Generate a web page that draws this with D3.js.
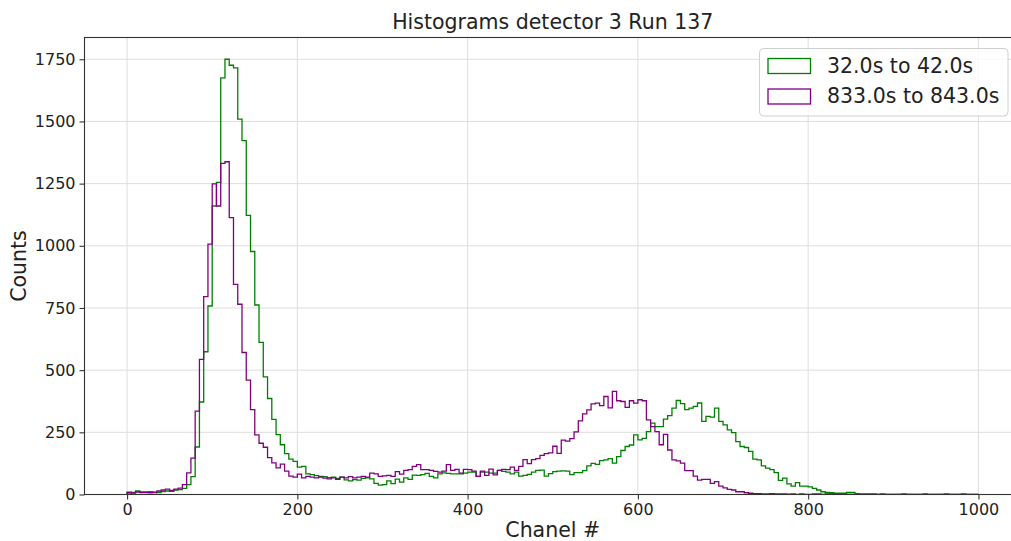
<!DOCTYPE html>
<html>
<head>
<meta charset="utf-8">
<script src="https://cdn.jsdelivr.net/npm/d3@7"></script>
<style>
  body { margin: 0; background: #fff; }
  svg { display: block; }
  text { font-family: "DejaVu Sans", sans-serif; fill: #222; }
</style>
</head>
<body>
<svg id="chart" width="1011" height="541"></svg>
<script>
// Histogram counts per 5-channel bin, channels 0..1000
const binWidth = 5;

const greenCounts = [
  6, 8, 14, 10, 10, 11, 9, 8, 12, 14, 13, 18, 20, 25, 40, 72, 191, 372, 574, 758,
  1160, 1255, 1675, 1750, 1726, 1715, 1509, 1423, 1122, 977, 762, 612, 473, 386, 302, 241, 200, 164, 142, 133,
  110, 113, 83, 80, 76, 73, 72, 68, 70, 65, 70, 59, 55, 60, 58, 65, 67, 63, 45, 38,
  40, 55, 44, 62, 50, 67, 61, 78, 77, 80, 85, 73, 67, 83, 87, 85, 83, 83, 83, 86,
  90, 90, 73, 90, 90, 86, 86, 97, 93, 90, 83, 90, 74, 77, 81, 90, 97, 98, 74, 84,
  92, 94, 95, 94, 80, 88, 88, 96, 115, 125, 121, 136, 139, 144, 126, 152, 177, 193, 199, 240,
  220, 226, 253, 287, 273, 273, 303, 317, 347, 378, 365, 341, 347, 354, 368, 294, 314, 311, 347, 294,
  280, 260, 249, 213, 193, 189, 173, 142, 139, 115, 106, 100, 88, 57, 66, 43, 34, 48, 34, 34,
  31, 25, 18, 11, 8, 7, 5, 5, 5, 8, 8, 3, 2, 2, 2, 2, 0, 2, 0, 0,
  0, 0, 2, 0, 0, 0, 0, 2, 0, 0, 0, 0, 2, 0, 0, 0, 2, 0, 0, 0
];

const purpleCounts = [
  9, 6, 10, 8, 8, 7, 8, 14, 18, 22, 16, 22, 26, 40, 87, 146, 335, 543, 796, 1007,
  1249, 1160, 1331, 1338, 1113, 845, 765, 571, 460, 341, 240, 206, 190, 148, 127, 107, 122, 94, 74, 70,
  82, 67, 73, 70, 67, 70, 66, 63, 67, 61, 70, 67, 72, 67, 70, 73, 70, 86, 83, 73,
  75, 77, 73, 92, 82, 97, 100, 113, 120, 100, 100, 97, 93, 90, 94, 120, 97, 101, 86, 101,
  100, 94, 73, 94, 77, 102, 79, 97, 101, 100, 110, 97, 113, 140, 124, 140, 144, 157, 164, 167,
  194, 165, 219, 215, 225, 252, 296, 324, 340, 364, 367, 357, 394, 348, 415, 377, 374, 350, 377, 367,
  381, 377, 300, 273, 253, 200, 242, 179, 139, 135, 126, 96, 96, 74, 58, 61, 61, 45, 52, 34,
  27, 21, 18, 11, 11, 7, 5, 3, 3, 2, 2, 3, 2, 2, 2, 1, 2, 0, 2, 0,
  0, 2, 2, 0, 2, 2, 0, 0, 0, 0, 0, 0, 0, 0, 0, 0, 0, 0, 0, 0,
  0, 0, 0, 0, 0, 0, 0, 0, 0, 0, 0, 0, 0, 0, 0, 0, 0, 0, 0, 0
];

const seriesLabels = ["32.0s to 42.0s", "833.0s to 843.0s"];
const seriesColors = ["#008000", "#800080"];
const xTicks = [0, 200, 400, 600, 800, 1000];
const yTicks = [0, 250, 500, 750, 1000, 1250, 1500, 1750];
const titleText = "Histograms detector 3 Run 137";
const xLabelText = "Chanel #";
const yLabelText = "Counts";

const svg = d3.select("#chart");
const plot = { left: 84.5, right: 1021, top: 37.5, bottom: 494.5 };

const nBins = greenCounts.length;
const xMax = nBins * binWidth;
const xPad = xMax * 0.05;
const yMax = d3.max([d3.max(greenCounts), d3.max(purpleCounts)]) * 1.05;

const x = d3.scaleLinear().domain([-xPad, xMax + xPad]).range([plot.left, plot.right]);
const y = d3.scaleLinear().domain([0, yMax]).range([plot.bottom, plot.top]);

svg.append("defs").append("clipPath").attr("id", "plotClip")
  .append("rect")
  .attr("x", plot.left).attr("y", plot.top)
  .attr("width", plot.right - plot.left).attr("height", plot.bottom - plot.top);

// grid
const grid = svg.append("g").attr("stroke", "#dedede").attr("stroke-width", 1);
grid.selectAll("line.gx").data(xTicks).join("line")
  .attr("x1", d => x(d)).attr("x2", d => x(d))
  .attr("y1", plot.top).attr("y2", plot.bottom);
grid.selectAll("line.gy").data(yTicks).join("line")
  .attr("x1", plot.left).attr("x2", plot.right)
  .attr("y1", d => y(d)).attr("y2", d => y(d));

// step outline of a histogram, closed down to the baseline at both ends
function stepPoints(counts) {
  const pts = [[0, 0]];
  counts.forEach((c, i) => {
    pts.push([i * binWidth, c]);
    pts.push([(i + 1) * binWidth, c]);
  });
  pts.push([counts.length * binWidth, 0]);
  return pts;
}

const line = d3.line().x(d => x(d[0])).y(d => y(d[1]));

const series = [greenCounts, purpleCounts];
svg.append("g").attr("clip-path", "url(#plotClip)")
  .selectAll("path").data(series).join("path")
  .attr("d", d => line(stepPoints(d)))
  .attr("fill", "none")
  .attr("stroke", (d, i) => seriesColors[i])
  .attr("stroke-width", 1.3)
  .attr("stroke-linejoin", "miter");

// axes
const fmt = d3.format("d");
const xAxis = d3.axisBottom(x).tickValues(xTicks).tickFormat(fmt).tickSize(5).tickSizeOuter(0).tickPadding(4);
const yAxis = d3.axisLeft(y).tickValues(yTicks).tickFormat(fmt).tickSize(5).tickSizeOuter(0).tickPadding(4);

const gx = svg.append("g").attr("transform", `translate(0,${plot.bottom})`).call(xAxis);
const gy = svg.append("g").attr("transform", `translate(${plot.left},0)`).call(yAxis);
[gx, gy].forEach(g => {
  g.select(".domain").remove();
  g.selectAll(".tick line").attr("stroke", "#333").attr("stroke-width", 1.1);
  g.selectAll(".tick text").attr("font-size", 16).attr("fill", "#222")
    .style("font-family", "'DejaVu Sans', sans-serif");
});

// frame
svg.append("rect")
  .attr("x", plot.left).attr("y", plot.top)
  .attr("width", plot.right - plot.left).attr("height", plot.bottom - plot.top)
  .attr("fill", "none").attr("stroke", "#333").attr("stroke-width", 1.1);

// title and axis labels
svg.append("text")
  .attr("x", (plot.left + plot.right) / 2).attr("y", 29)
  .attr("text-anchor", "middle").attr("font-size", 20.5)
  .text(titleText);

svg.append("text")
  .attr("x", (plot.left + plot.right) / 2).attr("y", 537)
  .attr("text-anchor", "middle").attr("font-size", 20.5)
  .text(xLabelText);

svg.append("text")
  .attr("transform", `translate(26,${(plot.top + plot.bottom) / 2}) rotate(-90)`)
  .attr("text-anchor", "middle").attr("font-size", 20.5)
  .text(yLabelText);

// legend
const legend = svg.append("g");
legend.append("rect")
  .attr("x", 759.5).attr("y", 48.5).attr("width", 248.5).attr("height", 67.5)
  .attr("rx", 4).attr("ry", 4)
  .attr("fill", "#fff").attr("fill-opacity", 0.8)
  .attr("stroke", "#d0d0d0").attr("stroke-width", 1);

const items = legend.selectAll("g.item").data(seriesLabels).join("g")
  .attr("transform", (d, i) => `translate(0,${i * 30.5})`);
items.append("rect")
  .attr("x", 768).attr("y", 58.5).attr("width", 42.5).attr("height", 15)
  .attr("fill", "none")
  .attr("stroke", (d, i) => seriesColors[i]).attr("stroke-width", 1.3);
items.append("text")
  .attr("x", 827).attr("y", 72.5)
  .attr("font-size", 20.5)
  .text(d => d);
</script>
</body>
</html>
